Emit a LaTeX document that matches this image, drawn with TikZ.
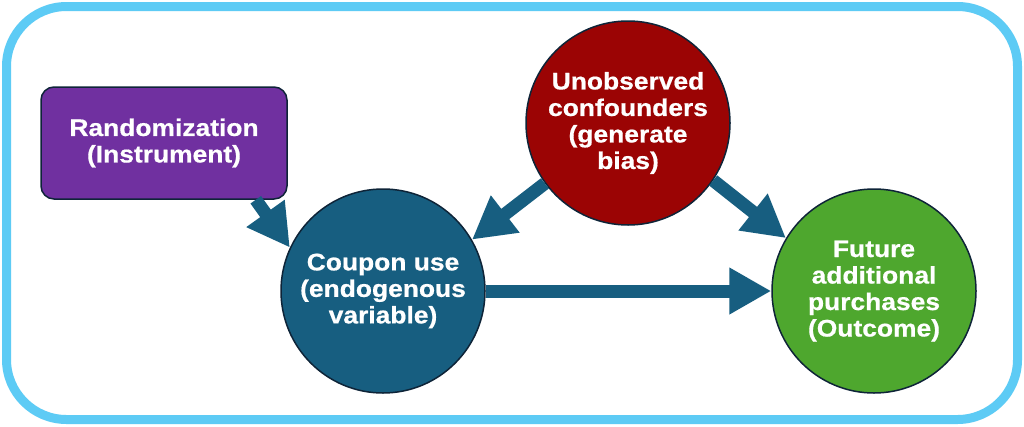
\documentclass[tikz,border=0pt]{standalone}
\usepackage{fontspec}
\setmainfont{Liberation Sans}[BoldFeatures={FakeStretch=1.1, FakeBold=0.6}]
\usetikzlibrary{arrows.meta}

\definecolor{framecol}{RGB}{93,203,245}
\definecolor{edgecol}{RGB}{14,36,56}
\definecolor{randcol}{RGB}{112,48,160}
\definecolor{couponcol}{RGB}{23,94,128}
\definecolor{confcol}{RGB}{155,4,4}
\definecolor{outcol}{RGB}{78,167,46}

\begin{document}
\begin{tikzpicture}[x=1pt, y=-1pt,
	label font/.style={text=white, align=center, font=\fontsize{24}{26.5}\selectfont\bfseries},
	vertex/.style={circle, draw=edgecol, line width=1.5pt, minimum size=204pt, inner sep=0pt, label font},
	box/.style={rectangle, rounded corners=13pt, draw=edgecol, line width=1.5pt, minimum width=246pt, minimum height=112pt, label font},
	link/.style={couponcol, line width=13pt, -{Triangle[length=42pt, width=44pt]}}
]

	% canvas
	\useasboundingbox (0, 0) rectangle (1024, 426);
	\fill[white] (0, 0) rectangle (1024, 426);

	% frame
	\draw[framecol, line width=9pt, rounded corners=60pt] (6.5, 6.5) rectangle (1017.5, 419.5);

	% nodes
	\node[box, fill=randcol] (rand) at (164, 143) {Randomization\\(Instrument)};
	\node[vertex, fill=couponcol] (coupon) at (383, 291) {Coupon use\\(endogenous\\variable)};
	\node[vertex, fill=confcol] (conf) at (628, 123) {Unobserved\\confounders\\(generate\\bias)};
	\node[vertex, fill=outcol] (outcome) at (874, 291) {Future\\additional\\purchases\\(Outcome)};

	% arrows
	\draw[link] ([xshift=-32pt]rand.south east) -- (coupon.155);
	\draw[link] (conf.216) -- (coupon.30);
	\draw[link] (conf.-34) -- (outcome.149);
	\draw[link] (coupon.east) -- (outcome.west);
\end{tikzpicture}
\end{document}
